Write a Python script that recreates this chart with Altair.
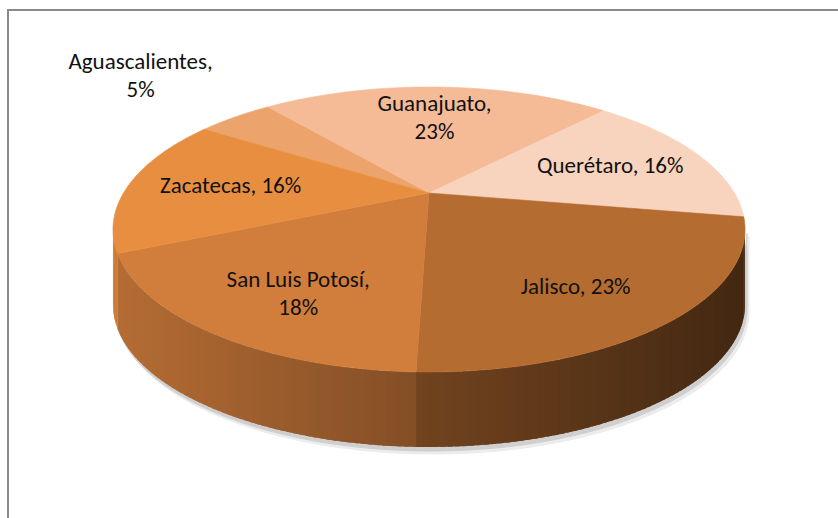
import math
import altair as alt
import pandas as pd

# ---- data -------------------------------------------------------------
names = ["Aguascalientes", "Guanajuato", "Querétaro", "Jalisco", "San Luis Potosí", "Zacatecas"]
values = [5, 23, 16, 23, 18, 16]
labels = ["Aguascalientes,\n5%", "Guanajuato,\n23%", "Querétaro, 16%",
          "Jalisco, 23%", "San Luis Potosí,\n18%", "Zacatecas, 16%"]
colors = ["#eda46c", "#f5ba96", "#f8d4bf", "#b56c31", "#d17d3c", "#e88e41"]

def _rgb(h):
    h = h.lstrip("#")
    return int(h[0:2], 16), int(h[2:4], 16), int(h[4:6], 16)

df = pd.DataFrame({
    "idx": list(range(len(names))),
    "name": names,
    "value": values,
    "label": labels,
    "color": colors,
    "r": [_rgb(c)[0] for c in colors],
    "g": [_rgb(c)[1] for c in colors],
    "b": [_rgb(c)[2] for c in colors],
})

# ---- 3-D pie geometry (layout constants) -----------------------------
W, H = 838, 518
CX, CY = 429, 229.5          # ellipse centre
A, B = 305.5, 142.5          # projected radii
C = -0.256                   # perspective factor
DEPTH = 75
ROT = math.radians(-57)      # angle of first slice
VIS0 = math.acos(C)
VIS1 = 2 * math.pi - VIS0
HALFW = A / math.sqrt(1 - C * C)
NP = 72
FS, LH = 23, 28

xs = alt.Scale(domain=[0, W], nice=False, zero=False)
ys = alt.Scale(domain=[0, H], reverse=True, nice=False, zero=False)


def with_angles(ch):
    return (ch.transform_joinaggregate(total="sum(value)")
              .transform_window(cum="sum(value)", sort=[alt.SortField("idx")], frame=[None, 0])
              .transform_calculate(a0=f"{ROT} + 2*PI*(datum.cum - datum.value)/datum.total")
              .transform_calculate(a1=f"{ROT} + 2*PI*datum.cum/datum.total"))


def project(ch, dx=0, dy=0):
    return (ch.transform_calculate(X=f"{CX} + {dx} + {A} * datum.u / (1 + {C} * datum.v)")
              .transform_calculate(Y=f"{CY} + {dy} + datum.dz + {B} * (datum.v + {C}) / (1 + {C} * datum.v)"))


base = alt.Chart(df)

# top face polygons
top = with_angles(base).transform_calculate(k=f"sequence(0, {NP + 2})").transform_flatten(["k"])
top = top.transform_calculate(ang=f"datum.a0 + (datum.a1 - datum.a0) * min(datum.k, {NP}) / {NP}")
top = top.transform_calculate(rr=f"datum.k > {NP} ? 0 : 1")
top = top.transform_calculate(u="datum.rr * sin(datum.ang)")
top = top.transform_calculate(v="-datum.rr * cos(datum.ang)")
top = top.transform_calculate(dz="0")
top = project(top).mark_line(interpolate="linear-closed", filled=True, strokeWidth=0.6).encode(
    x=alt.X("X:Q", scale=xs, axis=None),
    y=alt.Y("Y:Q", scale=ys, axis=None),
    detail="name:N",
    order="k:Q",
    fill=alt.Fill("color:N", scale=None),
    stroke=alt.Stroke("color:N", scale=None),
)


def visible(ch):
    ch = with_angles(ch)
    ch = ch.transform_calculate(b0=f"max(datum.a0, {VIS0})")
    ch = ch.transform_calculate(b1=f"min(datum.a1, {VIS1})")
    return ch.transform_filter("datum.b1 > datum.b0")


# side wall: shaded strips (slightly overlapping, no outline)
STEP = 0.018
wall = visible(base)
wall = wall.transform_calculate(ns=f"ceil((datum.b1 - datum.b0) / {STEP})")
wall = wall.transform_calculate(j="sequence(0, datum.ns)").transform_flatten(["j"])
wall = wall.transform_calculate(s0="datum.b0 + (datum.b1 - datum.b0) * datum.j / datum.ns")
wall = wall.transform_calculate(
    s1="min(datum.b1, datum.b0 + (datum.b1 - datum.b0) * (datum.j + 1.7) / datum.ns)")
wall = wall.transform_calculate(sid="datum.idx * 1000 + datum.j")
wall = wall.transform_calculate(q="[0, 1, 2, 3]").transform_flatten(["q"])
wall = wall.transform_calculate(ang="(datum.q == 0 || datum.q == 3) ? datum.s0 : datum.s1")
wall = wall.transform_calculate(dz=f"datum.q >= 2 ? {DEPTH} : 0")
wall = wall.transform_calculate(u="sin(datum.ang)")
wall = wall.transform_calculate(v="-cos(datum.ang)")
wall = wall.transform_calculate(
    xm=f"{A} * sin(datum.s0) / (1 - {C} * cos(datum.s0)) / {HALFW}")
wall = wall.transform_calculate(f="0.62 - 0.25 * datum.xm")
wall = wall.transform_calculate(
    shade="'rgb(' + round(datum.r * datum.f) + ',' + round(datum.g * datum.f) + ',' + round(datum.b * datum.f) + ')'")
wall = project(wall).mark_line(interpolate="linear-closed", filled=True, strokeWidth=0).encode(
    x=alt.X("X:Q", scale=xs, axis=None),
    y=alt.Y("Y:Q", scale=ys, axis=None),
    detail="sid:Q",
    order="q:Q",
    fill=alt.Fill("shade:N", scale=None),
)


# soft shadow under the wall
def shadow(dx, dy, col):
    ch = visible(base)
    ch = ch.transform_calculate(k=f"sequence(0, {2 * NP + 2})").transform_flatten(["k"])
    ch = ch.transform_calculate(
        ang=f"datum.k <= {NP} ? datum.b0 + (datum.b1 - datum.b0) * datum.k / {NP} : "
            f"datum.b0 + (datum.b1 - datum.b0) * ({2 * NP + 1} - datum.k) / {NP}")
    ch = ch.transform_calculate(dz=f"datum.k <= {NP} ? 0 : {DEPTH}")
    ch = ch.transform_calculate(u="sin(datum.ang)")
    ch = ch.transform_calculate(v="-cos(datum.ang)")
    return project(ch, dx, dy).mark_line(interpolate="linear-closed", filled=True,
                                          fill=col, stroke=col, strokeWidth=1).encode(
        x=alt.X("X:Q", scale=xs, axis=None),
        y=alt.Y("Y:Q", scale=ys, axis=None),
        detail="name:N",
        order="k:Q",
    )


# labels
txt = with_angles(base).transform_calculate(m="(datum.a0 + datum.a1) / 2")
txt = txt.transform_calculate(rl="datum.value / datum.total < 0.1 ? 1.62 : 0.66")
txt = txt.transform_calculate(u="datum.rl * sin(datum.m)")
txt = txt.transform_calculate(v="-datum.rl * cos(datum.m)")
txt = txt.transform_calculate(nl="length(split(datum.label, '\\n'))")
txt = txt.transform_calculate(
    dz=f"(datum.rl < 1 ? {DEPTH} * 0.4 * max(datum.v, 0) : -4) - (datum.nl - 1) * {LH / 2}")
txt = project(txt).mark_text(font="Carlito, Lato", fontSize=FS, lineBreak="\n", lineHeight=LH,
                             color="#111111", align="center", baseline="middle").encode(
    x=alt.X("X:Q", scale=xs, axis=None),
    y=alt.Y("Y:Q", scale=ys, axis=None),
    text="label:N",
)

border = base.transform_filter("datum.idx == 0").mark_rect(
    fill=None, stroke="#8a8a8a", strokeWidth=2).encode(
    x=alt.value(8), x2=alt.value(W + 10), y=alt.value(10), y2=alt.value(H + 10))

chart = alt.layer(
    border,
    shadow(4, 7, "#ececec"),
    shadow(2, 4, "#cfcfcf"),
    wall,
    top,
    txt,
).properties(
    width=W, height=H,
    autosize=alt.AutoSizeParams(type="none"),
    padding=0,
    background="white",
).configure_view(stroke=None)

chart.save("out.html", embed_options={"renderer": "svg", "actions": False})
